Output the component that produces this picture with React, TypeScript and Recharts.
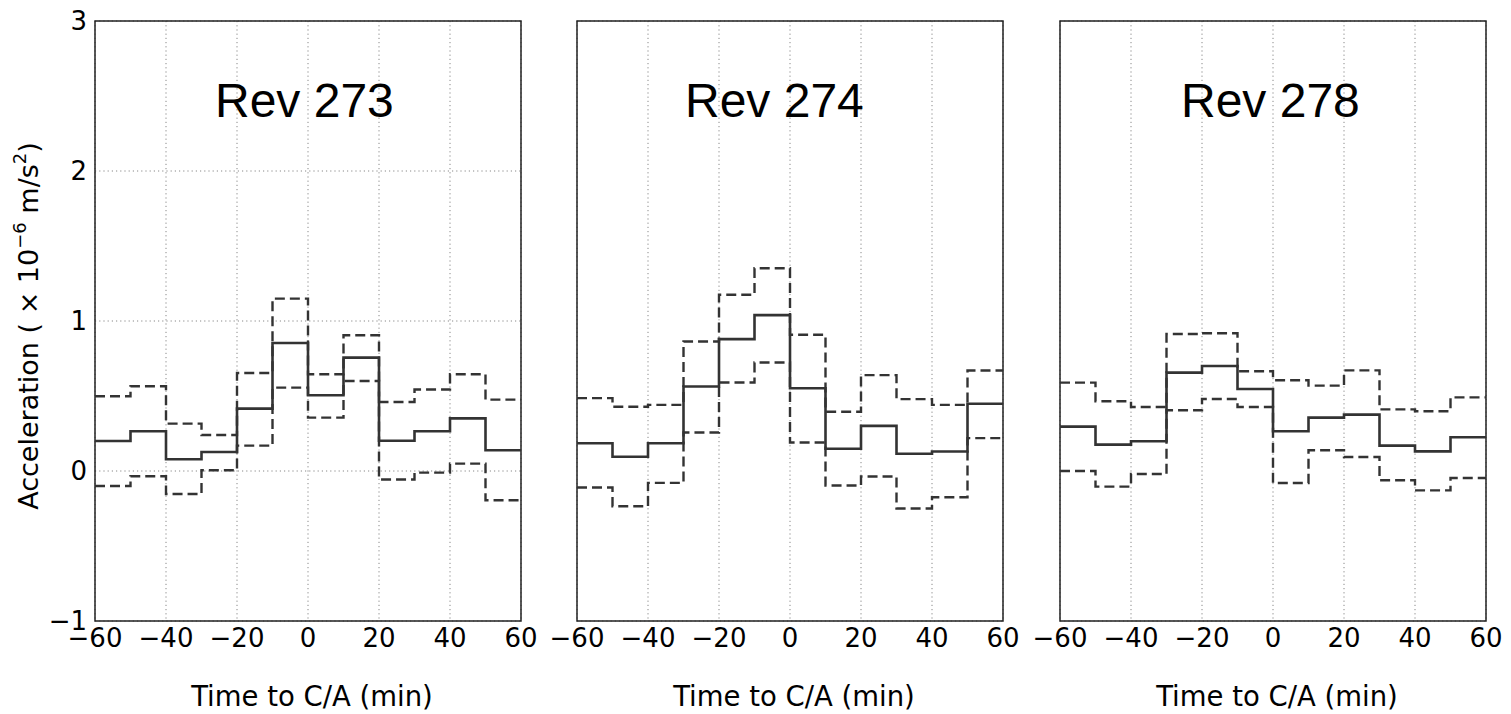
import { LineChart, Line, XAxis, YAxis, CartesianGrid, ReferenceArea } from 'recharts';

const binEdges = [-60, -50, -40, -30, -20, -10, 0, 10, 20, 30, 40, 50, 60];
const xTicks = [-60, -40, -20, 0, 20, 40, 60];
const yTicks = [-1, 0, 1, 2, 3];

const rev273Mean = [0.2, 0.265, 0.078, 0.127, 0.416, 0.853, 0.505, 0.756, 0.202, 0.265, 0.351, 0.138];
const rev273Upper = [0.498, 0.565, 0.316, 0.24, 0.653, 1.149, 0.645, 0.905, 0.46, 0.543, 0.645, 0.476];
const rev273Lower = [-0.1, -0.035, -0.153, 0.005, 0.169, 0.556, 0.356, 0.6, -0.057, -0.011, 0.049, -0.195];

const rev274Mean = [0.185, 0.095, 0.185, 0.563, 0.879, 1.039, 0.552, 0.148, 0.301, 0.115, 0.13, 0.448];
const rev274Upper = [0.486, 0.428, 0.441, 0.863, 1.175, 1.352, 0.908, 0.395, 0.639, 0.479, 0.441, 0.67];
const rev274Lower = [-0.11, -0.235, -0.079, 0.257, 0.59, 0.723, 0.19, -0.097, -0.037, -0.25, -0.175, 0.219];

const rev278Mean = [0.296, 0.176, 0.198, 0.656, 0.7, 0.547, 0.265, 0.356, 0.376, 0.169, 0.131, 0.225];
const rev278Upper = [0.589, 0.465, 0.427, 0.913, 0.918, 0.665, 0.605, 0.569, 0.671, 0.411, 0.398, 0.491];
const rev278Lower = [0.0, -0.104, -0.02, 0.405, 0.48, 0.427, -0.08, 0.138, 0.093, -0.062, -0.129, -0.047];

// step rows: last edge repeats the last bin so stepAfter closes at +60
function stepRows(mean: number[], upper: number[], lower: number[]) {
  return binEdges.map((t, i) => {
    const k = Math.min(i, mean.length - 1);
    return { t, mean: mean[k], upper: upper[k], lower: lower[k] };
  });
}

const panels = [
  { title: 'Rev 273', left: 95, titleLeft: 215, rows: stepRows(rev273Mean, rev273Upper, rev273Lower) },
  { title: 'Rev 274', left: 577, titleLeft: 685, rows: stepRows(rev274Mean, rev274Upper, rev274Lower) },
  { title: 'Rev 278', left: 1060, titleLeft: 1181, rows: stepRows(rev278Mean, rev278Upper, rev278Lower) },
];

const PLOT_W = 426;
const PLOT_H = 600;
const PLOT_TOP = 21;
const Y_AXIS_W = 60;
const MARGIN = { top: 20, right: 25, left: 0, bottom: 0 };
const X_AXIS_H = 40;
const mpl = '"DejaVu Sans", sans-serif';

const minus = (v: number) => (v < 0 ? `\u2212${-v}` : `${v}`);

function Panel({ rows, left, showY }: { rows: any[]; left: number; showY: boolean }) {
  return (
    <div style={{ position: 'absolute', left: left - Y_AXIS_W, top: PLOT_TOP - MARGIN.top }}>
      <LineChart
        width={Y_AXIS_W + PLOT_W + MARGIN.right}
        height={MARGIN.top + PLOT_H + X_AXIS_H}
        data={rows}
        margin={MARGIN}
      >
        <CartesianGrid stroke="#888" strokeDasharray="1.2 3" />
        <XAxis
          dataKey="t"
          type="number"
          domain={[-60, 60]}
          ticks={xTicks}
          interval={0}
          height={X_AXIS_H}
          tickLine={false}
          axisLine={false}
          tickFormatter={minus}
          tick={{ fontSize: 26, fill: '#000', fontFamily: mpl }}
        />
        <YAxis
          type="number"
          domain={[-1, 3]}
          ticks={yTicks}
          interval={0}
          width={Y_AXIS_W}
          tickLine={false}
          axisLine={false}
          tickFormatter={minus}
          tick={showY ? { fontSize: 26, fill: '#000', fontFamily: mpl } : false}
        />
        <ReferenceArea x1={-60} x2={60} y1={-1} y2={3} fill="none" stroke="#222" strokeWidth={1.5} ifOverflow="visible" />
        <Line type="stepAfter" dataKey="upper" stroke="#333" strokeWidth={2.4} strokeDasharray="10 5" dot={false} activeDot={false} isAnimationActive={false} />
        <Line type="stepAfter" dataKey="lower" stroke="#333" strokeWidth={2.4} strokeDasharray="10 5" dot={false} activeDot={false} isAnimationActive={false} />
        <Line type="stepAfter" dataKey="mean" stroke="#333" strokeWidth={2.6} dot={false} activeDot={false} isAnimationActive={false} />
      </LineChart>
    </div>
  );
}

export default function App() {
  return (
    <div style={{ position: 'absolute', left: 0, top: 0, width: 1511, height: 714, background: '#fff' }}>
      {panels.map((p, i) => (
        <Panel key={p.title} rows={p.rows} left={p.left} showY={i === 0} />
      ))}
      <svg width={1511} height={714} style={{ position: 'absolute', left: 0, top: 0, pointerEvents: 'none' }}>
        {panels.map((p) => (
          <text key={p.title} x={p.titleLeft} y={117} fontSize={48} fontFamily='"Liberation Sans", Arial, sans-serif' fill="#000">
            {p.title}
          </text>
        ))}
        {panels.map((p) => (
          <text key={p.title + 'x'} x={p.left + PLOT_W / 2 + 4} y={706} fontSize={27.5} fontFamily={mpl} fill="#000" textAnchor="middle">
            Time to C/A (min)
          </text>
        ))}
        <text transform="rotate(-90)" x={-326} y={38} fontSize={27} fontFamily={mpl} fill="#000" textAnchor="middle">
          Acceleration ( × 10
          <tspan dy={-12} fontSize={18}>−6</tspan>
          <tspan dy={12}> m/s</tspan>
          <tspan dy={-12} fontSize={18}>2</tspan>
          <tspan dy={12}>)</tspan>
        </text>
      </svg>
    </div>
  );
}
